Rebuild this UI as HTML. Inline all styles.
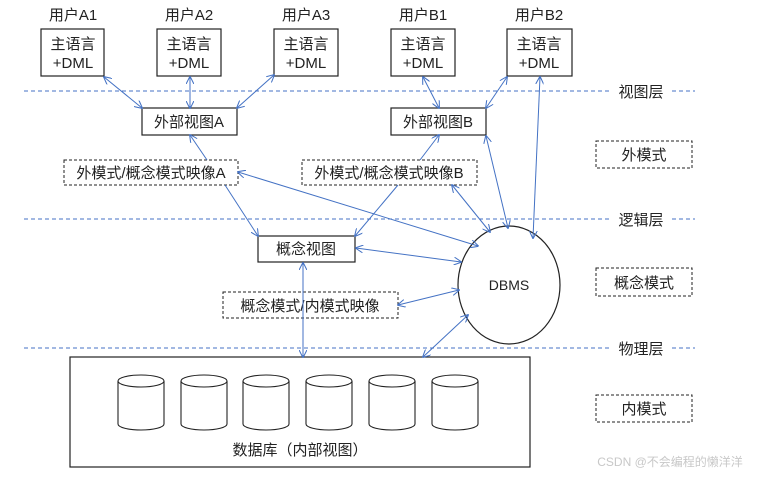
<!DOCTYPE html>
<html><head><meta charset="utf-8"><style>
html,body{margin:0;padding:0;background:#fff;}
svg text{font-family:"Liberation Sans","Noto Sans CJK SC",sans-serif;fill:#222;}
</style></head><body>
<svg width="763" height="473" viewBox="0 0 763 473" xmlns="http://www.w3.org/2000/svg">
<defs>
<marker id="a" viewBox="0 0 10 10" refX="9" refY="5" markerWidth="8" markerHeight="8" orient="auto-start-reverse" markerUnits="userSpaceOnUse">
<path d="M0,0 L10,5 L0,10" fill="none" stroke="#4472C4" stroke-width="1.3"/></marker>
</defs>
<g stroke="#4472C4" stroke-width="1" stroke-dasharray="4,3">
<line x1="24" y1="91" x2="610" y2="91"/><line x1="672" y1="91" x2="695" y2="91"/>
<line x1="24" y1="219" x2="610" y2="219"/><line x1="672" y1="219" x2="695" y2="219"/>
<line x1="24" y1="348" x2="610" y2="348"/><line x1="672" y1="348" x2="695" y2="348"/>
</g>
<g font-size="15" text-anchor="middle">
<text x="641" y="97" fill="#444">视图层</text>
<text x="641" y="225" fill="#444">逻辑层</text>
<text x="641" y="354" fill="#444">物理层</text>
<text x="73" y="20">用户A1</text><text x="189" y="20">用户A2</text><text x="306" y="20">用户A3</text>
<text x="423" y="20">用户B1</text><text x="539" y="20">用户B2</text>
</g>
<g fill="#fff" stroke="#222" stroke-width="1.2">
<rect x="41" y="29" width="63" height="47"/><rect x="157" y="29" width="64" height="47"/>
<rect x="274" y="29" width="64" height="47"/><rect x="391" y="29" width="64" height="47"/>
<rect x="507" y="29" width="65" height="47"/>
<rect x="142" y="108" width="95" height="27"/><rect x="391" y="108" width="95" height="27"/>
<rect x="258" y="236" width="97" height="26"/>
<rect x="70" y="357" width="460" height="110"/>
<ellipse cx="509" cy="285" rx="51" ry="59"/>
</g>
<g fill="#fff" stroke="#222" stroke-width="1" stroke-dasharray="3,2">
<rect x="64" y="160" width="174" height="25"/><rect x="302" y="160" width="175" height="25"/>
<rect x="223" y="292" width="175" height="26"/>
<rect x="596" y="141" width="96" height="27"/><rect x="596" y="268" width="96" height="28"/>
<rect x="596" y="395" width="96" height="27"/>
</g>
<g font-size="15" text-anchor="middle">
<text x="73" y="49">主语言</text><text x="73" y="68">+DML</text>
<text x="189" y="49">主语言</text><text x="189" y="68">+DML</text>
<text x="306" y="49">主语言</text><text x="306" y="68">+DML</text>
<text x="423" y="49">主语言</text><text x="423" y="68">+DML</text>
<text x="539" y="49">主语言</text><text x="539" y="68">+DML</text>
<text x="189" y="127">外部视图A</text><text x="438" y="127">外部视图B</text>
<text x="151" y="178">外模式/概念模式映像A</text><text x="389" y="178">外模式/概念模式映像B</text>
<text x="306" y="254">概念视图</text>
<text x="310" y="311">概念模式/内模式映像</text>
<text x="644" y="160">外模式</text><text x="644" y="288">概念模式</text><text x="644" y="414">内模式</text>
<text x="509" y="290" font-size="14">DBMS</text>
<text x="300" y="455">数据库（内部视图）</text>
<text x="670" y="466" font-size="12" fill="#c8c8c8" style="fill:#c8c8c8">CSDN @不会编程的懒洋洋</text>
</g>
<g fill="#fff" stroke="#222" stroke-width="1.1">
<g id="c"><path d="M118,381 V424 A23,6 0 0 0 164,424 V381"/><ellipse cx="141" cy="381" rx="23" ry="6"/></g>
<use href="#c" x="63"/><use href="#c" x="125"/><use href="#c" x="188"/><use href="#c" x="251"/><use href="#c" x="314"/>
</g>
<g stroke="#4472C4" stroke-width="1" fill="none">
<line x1="104" y1="77" x2="142" y2="108" marker-start="url(#a)" marker-end="url(#a)"/>
<line x1="190" y1="77" x2="190" y2="108" marker-start="url(#a)" marker-end="url(#a)"/>
<line x1="274" y1="75" x2="237" y2="108" marker-start="url(#a)" marker-end="url(#a)"/>
<line x1="423" y1="77" x2="439" y2="108" marker-start="url(#a)" marker-end="url(#a)"/>
<line x1="507" y1="77" x2="486" y2="108" marker-start="url(#a)" marker-end="url(#a)"/>
<line x1="540" y1="77" x2="533" y2="238" marker-start="url(#a)" marker-end="url(#a)"/>
<line x1="207" y1="160" x2="190" y2="135" marker-end="url(#a)"/>
<line x1="225" y1="185" x2="258" y2="236" marker-end="url(#a)"/>
<line x1="238" y1="172" x2="478" y2="246" marker-start="url(#a)" marker-end="url(#a)"/>
<line x1="420" y1="160" x2="439" y2="135" marker-end="url(#a)"/>
<line x1="398" y1="185" x2="355" y2="236" marker-end="url(#a)"/>
<line x1="486" y1="136" x2="508" y2="228" marker-start="url(#a)" marker-end="url(#a)"/>
<line x1="452" y1="185" x2="490" y2="232" marker-start="url(#a)" marker-end="url(#a)"/>
<line x1="356" y1="248" x2="461" y2="262" marker-start="url(#a)" marker-end="url(#a)"/>
<line x1="398" y1="305" x2="459" y2="290" marker-start="url(#a)" marker-end="url(#a)"/>
<line x1="303" y1="263" x2="303" y2="357" marker-start="url(#a)" marker-end="url(#a)"/>
<line x1="468" y1="315" x2="423" y2="357" marker-start="url(#a)" marker-end="url(#a)"/>
</g>
</svg>
</body></html>
